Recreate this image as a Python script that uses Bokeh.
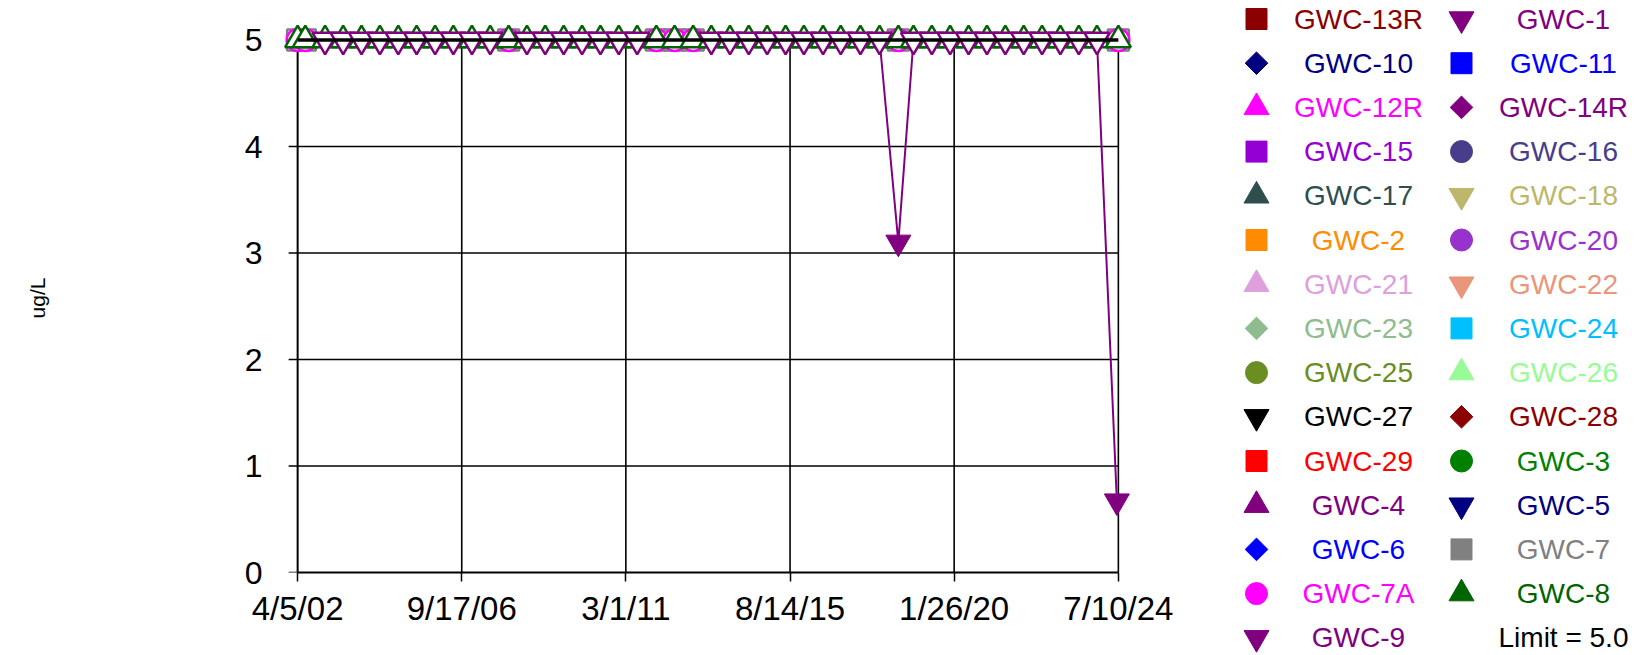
import numpy as np
import pandas as pd
from bokeh.plotting import figure
from bokeh.models import ColumnDataSource, Range1d, FixedTicker
from bokeh.layouts import row
from bokeh.embed import file_html
from bokeh.resources import INLINE
from bokeh.core.properties import value

# ---------------- data ----------------
x_tick_dates = ["2002-04-05", "2006-09-17", "2011-03-01", "2015-08-14", "2020-01-26", "2024-07-10"]
x_tick_labels = ["4/5/02", "9/17/06", "3/1/11", "8/14/15", "1/26/20", "7/10/24"]
y_ticks = [0, 1, 2, 3, 4, 5]
y_label = "ug/L"
limit_value = 5.0
limit_dates = ["2002-04-05", "2024-07-10"]

gwc8_dates = ["2002-04-05", "2002-06-20", "2003-01-02", "2003-06-30", "2003-12-29", "2004-06-28",
              "2004-12-27", "2005-06-27", "2005-12-27", "2006-06-26", "2006-12-27", "2007-06-26",
              "2007-12-26", "2008-06-24", "2008-12-22", "2009-06-23", "2009-12-22", "2010-06-22",
              "2010-12-21", "2011-06-21", "2011-12-28", "2012-06-26", "2012-12-27", "2013-06-25",
              "2013-12-27", "2014-07-01", "2014-12-30", "2015-07-01", "2015-12-29", "2016-07-06",
              "2016-12-28", "2017-07-11", "2018-01-17", "2018-07-22", "2018-12-19", "2019-06-19",
              "2019-12-17", "2020-06-17", "2020-12-16", "2021-06-16", "2021-12-15", "2022-06-15",
              "2022-12-13", "2023-06-14", "2023-12-11", "2024-07-10"]
gwc8_vals = [5.0] * 46

gwc9_dates = ["2003-01-02", "2003-06-30", "2003-12-29", "2004-06-28", "2004-12-27", "2005-06-27",
              "2005-12-27", "2006-06-26", "2006-12-27", "2007-06-26", "2008-06-24", "2008-12-22",
              "2009-06-23", "2009-12-22", "2010-06-22", "2010-12-21", "2011-06-21", "2013-06-25",
              "2013-12-27", "2014-07-01", "2014-12-30", "2015-07-01", "2015-12-29", "2016-07-06",
              "2016-12-28", "2017-07-11", "2018-01-17", "2018-07-22", "2018-12-19", "2019-06-19",
              "2019-12-17", "2020-06-17", "2020-12-16", "2021-06-16", "2021-12-15", "2022-06-15",
              "2022-12-13", "2023-06-14", "2023-12-11", "2024-06-25"]
gwc9_vals = [5.0] * 27 + [3.1] + [5.0] * 11 + [0.67]

gwc7_dates = ["2002-04-05", "2002-06-20", "2007-12-26", "2011-12-28", "2012-06-26", "2012-12-27",
              "2018-07-22", "2024-07-10"]
gwc7_vals = [5.0] * 8
gwc7a_dates = ["2002-04-05", "2002-06-20", "2007-12-26", "2011-12-28", "2012-06-26", "2012-12-27",
               "2018-07-22", "2024-07-10"]
gwc7a_vals = [5.0] * 8

legend_names = ["GWC-13R", "GWC-1", "GWC-10", "GWC-11", "GWC-12R", "GWC-14R", "GWC-15", "GWC-16",
                "GWC-17", "GWC-18", "GWC-2", "GWC-20", "GWC-21", "GWC-22", "GWC-23", "GWC-24",
                "GWC-25", "GWC-26", "GWC-27", "GWC-28", "GWC-29", "GWC-3", "GWC-4", "GWC-5",
                "GWC-6", "GWC-7", "GWC-7A", "GWC-8", "GWC-9", "Limit = 5.0"]
legend_colors = ["#8B0000", "#800080", "#000080", "#0000FF", "#FF00FF", "#800080", "#9400D3", "#483D8B",
                 "#2F4F4F", "#BDB76B", "#FF8C00", "#9932CC", "#DDA0DD", "#E9967A", "#8FBC8F", "#00BFFF",
                 "#6B8E23", "#98FB98", "#000000", "#8B0000", "#FF0000", "#008000", "#800080", "#000080",
                 "#0000FF", "#808080", "#FF00FF", "#006400", "#800080", "#000000"]
legend_markers = ["square", "inverted_triangle", "diamond", "square", "triangle", "diamond", "square", "circle",
                  "triangle", "inverted_triangle", "square", "circle", "triangle", "inverted_triangle", "diamond",
                  "square", "circle", "triangle", "inverted_triangle", "diamond", "square", "circle", "triangle",
                  "inverted_triangle", "diamond", "square", "circle", "triangle", "inverted_triangle", None]

plotted = [  # (name, dates, values) drawn in this order
    ("GWC-7", gwc7_dates, gwc7_vals),
    ("GWC-7A", gwc7a_dates, gwc7a_vals),
    ("GWC-8", gwc8_dates, gwc8_vals),
    ("GWC-9", gwc9_dates, gwc9_vals),
]

# ---------------- style ----------------
FONT_NAME = "Liberation Sans"
FONT = value(FONT_NAME)
marker_size = {"square": 21, "circle": 22, "triangle": 25, "inverted_triangle": 25, "diamond": 16}
to_ms = lambda d: pd.Timestamp(d).value // 10**6

tick_dt = pd.to_datetime(x_tick_dates)
pad = pd.Timedelta(days=150)
x_start, x_end = tick_dt[0] - pad, tick_dt[-1] + pad

MAIN_W, H = 1180, 655
p = figure(width=MAIN_W, height=H, x_axis_type="datetime", title=None,
           x_range=Range1d(x_start, x_end), y_range=Range1d(0, 5.155),
           output_backend="svg", toolbar_location=None,
           min_border_left=282, min_border_right=MAIN_W - 282 - 851,
           min_border_top=23, min_border_bottom=H - 23 - 549)
p.outline_line_color = None
p.xgrid.grid_line_color = None
p.ygrid.grid_line_color = None
p.background_fill_color = "white"
p.border_fill_color = "white"
p.frame_align = False

# x axis
tick_ms = [to_ms(d) for d in x_tick_dates]
p.xaxis.ticker = FixedTicker(ticks=tick_ms)
p.xaxis.major_label_overrides = {float(t): lab for t, lab in zip(tick_ms, x_tick_labels)}
p.xaxis.bounds = (tick_ms[0], tick_ms[-1])
p.xaxis.axis_line_width = 2
p.xaxis.axis_line_color = "black"
p.xaxis.major_tick_out = 9
p.xaxis.major_tick_in = 0
p.xaxis.major_tick_line_width = 1.5
p.xaxis.minor_tick_line_color = None
p.xaxis.major_label_text_font = FONT_NAME
p.xaxis.major_label_text_font_size = "33px"
p.xaxis.major_label_text_color = "black"
p.xaxis.major_label_standoff = 8

# y axis (labels only; line and ticks drawn at the first date)
p.yaxis.ticker = FixedTicker(ticks=y_ticks)
p.yaxis.axis_line_color = None
p.yaxis.major_tick_out = 0
p.yaxis.major_tick_in = 0
p.yaxis.major_tick_line_color = None
p.yaxis.minor_tick_line_color = None
p.yaxis.major_label_standoff = 20
p.yaxis.major_label_text_font = FONT_NAME
p.yaxis.major_label_text_font_size = "32px"
p.yaxis.major_label_text_color = "black"
p.yaxis.axis_label = y_label
p.yaxis.axis_label_text_font = FONT_NAME
p.yaxis.axis_label_text_font_size = "21px"
p.yaxis.axis_label_text_font_style = "normal"
p.yaxis.axis_label_text_color = "black"
p.yaxis.axis_label_standoff = 193

# grid lines from the tick lists
hy = [y for y in y_ticks if y != 0]
p.segment(x0=[tick_dt[0]] * len(hy), x1=[tick_dt[-1]] * len(hy), y0=hy, y1=hy,
          line_color="black", line_width=1.6)
p.segment(x0=list(tick_dt[1:]), x1=list(tick_dt[1:]), y0=[y_ticks[0]] * (len(tick_dt) - 1),
          y1=[y_ticks[-1]] * (len(tick_dt) - 1), line_color="black", line_width=1.6)
# y axis line and its outward ticks
p.segment(x0=[tick_dt[0]], x1=[tick_dt[0]], y0=[y_ticks[0]], y1=[y_ticks[-1]],
          line_color="black", line_width=2)
p.ray(x=[tick_dt[0]] * len(y_ticks), y=y_ticks, length=9, length_units="screen",
      angle=np.pi, line_color="black", line_width=1.5)

# series
style = {n: (c, m) for n, c, m in zip(legend_names, legend_colors, legend_markers)}
for name, dates, vals in plotted:
    color, mk = style[name]
    d = pd.to_datetime(dates)
    v = np.array(vals, dtype=float)
    p.line(d, v, line_color=color, line_width=2)
    nd = v >= limit_value
    m = "square" if mk == "diamond" else mk
    ang = np.pi / 4 if mk == "diamond" else 0.0
    p.scatter(d[nd], v[nd], marker=m, size=marker_size[mk], angle=ang,
              fill_color="white", line_color=color, line_width=2.5)
    if (~nd).any():
        p.scatter(d[~nd], v[~nd], marker=m, size=marker_size[mk], angle=ang,
                  fill_color=color, line_color=color, line_width=1)

# limit line
p.line(pd.to_datetime(limit_dates), [limit_value] * len(limit_dates), line_color="black", line_width=3.5)

# ---------------- legend panel ----------------
LW = 1637 - MAIN_W
leg = figure(width=LW, height=H, x_range=Range1d(0, LW), y_range=Range1d(H, 0), title=None,
             x_axis_location=None, y_axis_location=None,
             output_backend="svg", toolbar_location=None, min_border=0)
leg.grid.visible = False
leg.outline_line_color = None
leg.frame_align = False

col_marker_x = [76, 281]
col_text_x = [178, 383]
row0, row_step = 18.5, 44.2
idx = np.arange(len(legend_names))
rows = idx // 2
cols = idx % 2
mk_x, mk_y, mk_m, mk_c, mk_s, mk_a = [], [], [], [], [], []
for i, (n, c, m) in enumerate(zip(legend_names, legend_colors, legend_markers)):
    if m is None:
        continue
    mk_x.append(col_marker_x[cols[i]])
    mk_y.append(row0 + row_step * rows[i])
    mk_m.append("square" if m == "diamond" else m)
    mk_a.append(np.pi / 4 if m == "diamond" else 0.0)
    mk_c.append(c)
    mk_s.append(marker_size[m])
leg.scatter(x="x", y="y", marker="m", size="s", angle="a", fill_color="c", line_color="c",
            source=ColumnDataSource(dict(x=mk_x, y=mk_y, m=mk_m, s=mk_s, a=mk_a, c=mk_c)))
leg.text(x=[col_text_x[c] for c in cols], y=[row0 + row_step * r for r in rows], text=legend_names,
         text_color=legend_colors, text_font=FONT, text_font_size="28px",
         text_align="center", text_baseline="middle")

layout = row(p, leg)
open("out.html", "w").write(file_html(layout, INLINE))
